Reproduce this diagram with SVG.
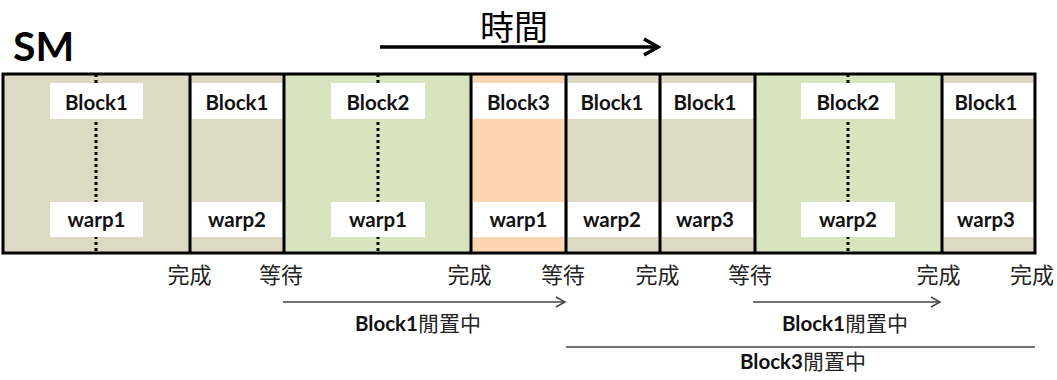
<svg xmlns="http://www.w3.org/2000/svg" width="1057" height="380" viewBox="0 0 1057 380">
<style>
.tan{fill:#DDD9C3}.grn{fill:#D7E4BD}.org{fill:#FCD5B5}
.lbl{fill:#fff}
.t{font-family:Lato,"Open Sans",sans-serif;font-weight:bold;font-size:20.5px;fill:#111;text-anchor:middle}
.dot{stroke:#000;stroke-width:3;stroke-dasharray:3 3;fill:none}
.div{stroke:#000;stroke-width:3;fill:none}
.cj{font-family:"Noto Sans CJK TC","Noto Sans CJK SC",sans-serif;font-size:22px;fill:#222;text-anchor:middle}
.cap{font-family:"Noto Sans CJK TC",sans-serif;font-size:21px;fill:#222;text-anchor:middle}
.capb{font-family:Lato,"Open Sans",sans-serif;font-weight:bold;font-size:20.5px;fill:#111}
.thin{stroke:#444;stroke-width:1.5;fill:none}
</style>
<defs>
<marker id="thinArrow" markerWidth="12" markerHeight="12" refX="10" refY="6" orient="auto" markerUnits="userSpaceOnUse">
<path d="M1,1 L10,6 L1,11" fill="none" stroke="#444" stroke-width="1.5"/>
</marker>
<marker id="bigArrow" markerWidth="20" markerHeight="20" refX="16" refY="10" orient="auto" markerUnits="userSpaceOnUse">
<path d="M2,2 L16,10 L2,18" fill="none" stroke="#000" stroke-width="3.5"/>
</marker>
</defs>
<rect width="1057" height="380" fill="#fff"/>
<text x="13" y="61" font-family="Lato,'Open Sans',sans-serif" font-weight="bold" font-size="41" fill="#000">SM</text>
<text x="514" y="40" class="cj" style="font-size:34px;fill:#000">時間</text>
<g id="connectors">
<line x1="380" y1="47" x2="658" y2="47" stroke="#000" stroke-width="3.5" marker-end="url(#bigArrow)"/>
<line x1="283" y1="302" x2="565" y2="302" class="thin" marker-end="url(#thinArrow)"/>
<line x1="753" y1="302" x2="940" y2="302" class="thin" marker-end="url(#thinArrow)"/>
<line x1="566" y1="347" x2="1035" y2="347" class="thin"/>
</g>
<g id="cell1">
<rect x="3" y="74" width="187" height="179" class="tan"/>
<line x1="96" y1="74" x2="96" y2="253" class="dot"/>
<rect x="50" y="83" width="93" height="36" class="lbl"/>
<rect x="50" y="202" width="93" height="35" class="lbl"/>
<text x="96.5" y="110" class="t">Block1</text>
<text x="96.5" y="227" class="t">warp1</text>
</g>
<g id="cell2">
<rect x="190" y="74" width="94" height="179" class="tan"/>
<rect x="192" y="83" width="90" height="36" class="lbl"/>
<rect x="192" y="202" width="90" height="35" class="lbl"/>
<text x="237" y="110" class="t">Block1</text>
<text x="237" y="227" class="t">warp2</text>
</g>
<g id="cell3">
<rect x="284" y="74" width="187" height="179" class="grn"/>
<line x1="378" y1="74" x2="378" y2="253" class="dot"/>
<rect x="331" y="83" width="94" height="36" class="lbl"/>
<rect x="331" y="202" width="94" height="35" class="lbl"/>
<text x="378" y="110" class="t">Block2</text>
<text x="378" y="227" class="t">warp1</text>
</g>
<g id="cell4">
<rect x="471" y="74" width="95" height="179" class="org"/>
<rect x="473" y="83" width="91" height="36" class="lbl"/>
<rect x="473" y="202" width="91" height="35" class="lbl"/>
<text x="518.5" y="110" class="t">Block3</text>
<text x="518.5" y="227" class="t">warp1</text>
</g>
<g id="cell5">
<rect x="566" y="74" width="94" height="179" class="tan"/>
<rect x="568" y="83" width="90" height="36" class="lbl"/>
<rect x="568" y="202" width="90" height="35" class="lbl"/>
<text x="612" y="110" class="t">Block1</text>
<text x="612" y="227" class="t">warp2</text>
</g>
<g id="cell6">
<rect x="660" y="74" width="95" height="179" class="tan"/>
<rect x="662" y="83" width="91" height="36" class="lbl"/>
<rect x="662" y="202" width="91" height="35" class="lbl"/>
<text x="705" y="110" class="t">Block1</text>
<text x="705" y="227" class="t">warp3</text>
</g>
<g id="cell7">
<rect x="755" y="74" width="187" height="179" class="grn"/>
<line x1="848" y1="74" x2="848" y2="253" class="dot"/>
<rect x="801" y="83" width="94" height="36" class="lbl"/>
<rect x="801" y="202" width="94" height="35" class="lbl"/>
<text x="848" y="110" class="t">Block2</text>
<text x="848" y="227" class="t">warp2</text>
</g>
<g id="cell8">
<rect x="942" y="74" width="93" height="179" class="tan"/>
<rect x="944" y="83" width="89" height="36" class="lbl"/>
<rect x="944" y="202" width="89" height="35" class="lbl"/>
<text x="986" y="110" class="t">Block1</text>
<text x="986" y="227" class="t">warp3</text>
</g>
<g id="frame">
<rect x="3" y="74" width="1032" height="179" class="div"/>
<line x1="190" y1="74" x2="190" y2="253" class="div"/>
<line x1="284" y1="74" x2="284" y2="253" class="div"/>
<line x1="471" y1="74" x2="471" y2="253" class="div"/>
<line x1="566" y1="74" x2="566" y2="253" class="div"/>
<line x1="660" y1="74" x2="660" y2="253" class="div"/>
<line x1="755" y1="74" x2="755" y2="253" class="div"/>
<line x1="942" y1="74" x2="942" y2="253" class="div"/>
</g>
<g id="events">
<text x="189.5" y="283" class="cj">完成</text>
<text x="281" y="283" class="cj">等待</text>
<text x="469.5" y="283" class="cj">完成</text>
<text x="563" y="283" class="cj">等待</text>
<text x="657.5" y="283" class="cj">完成</text>
<text x="750" y="283" class="cj">等待</text>
<text x="938.5" y="283" class="cj">完成</text>
<text x="1032" y="283" class="cj">完成</text>
</g>
<g id="labels">
<text x="418" y="331" class="cap"><tspan class="capb">Block1</tspan>閒置中</text>
<text x="845" y="331" class="cap"><tspan class="capb">Block1</tspan>閒置中</text>
<text x="803" y="369" class="cap"><tspan class="capb">Block3</tspan>閒置中</text>
</g>
</svg>
